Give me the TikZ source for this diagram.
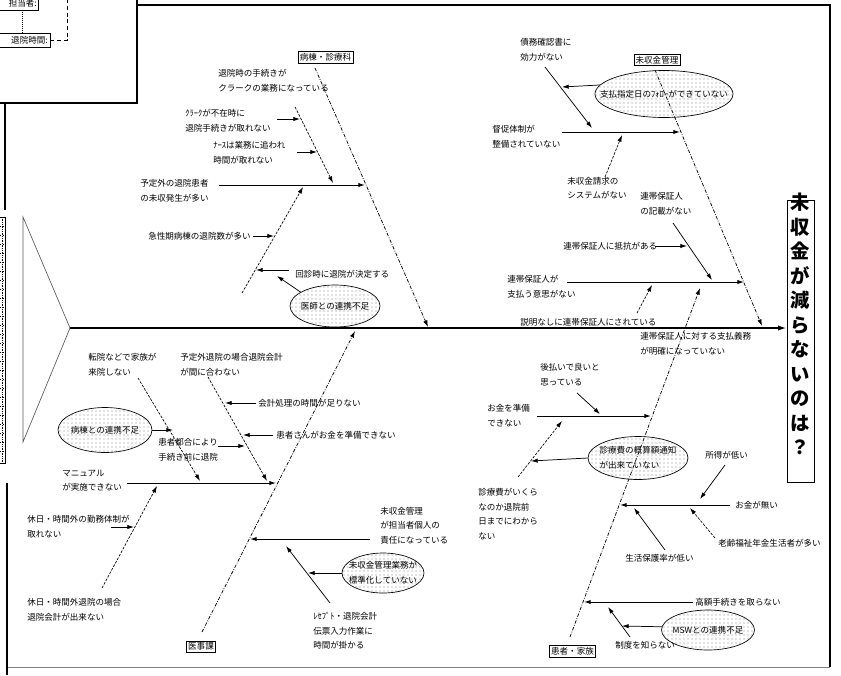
\documentclass[tikz,border=0pt]{standalone}
\usepackage{fontspec}
\setmainfont{Noto Sans CJK JP}
\usetikzlibrary{arrows.meta,shapes.geometric,patterns}
\begin{document}
\begin{tikzpicture}[x=0.75pt,y=-0.75pt,
  txt/.style={inner sep=0pt,font=\fontsize{6.4pt}{11pt}\selectfont,align=left,anchor=west},
  lbl/.style={draw,line width=0.5pt,inner sep=1.3pt,font=\fontsize{6.4pt}{8pt}\selectfont},
  arr/.style={-{Latex[length=5pt,width=3.2pt]},line width=0.55pt},
  hline/.style={arr,line width=0.7pt},
  subd/.style={arr,dash pattern=on 2pt off 1pt,line width=0.5pt},
  bone/.style={arr,dash pattern=on 2.6pt off 1.1pt on 0.6pt off 1.1pt,line width=0.55pt},
  ellip/.style={ellipse,draw,line width=0.5pt,pattern=dots,pattern color=gray,inner sep=0pt},
  frame/.style={line width=0.8pt}]
\useasboundingbox (0,0) rectangle (841,675);

% ---------- frames ----------
\coordinate (f1) at (137,-2); \coordinate (f2) at (137,103); \coordinate (f3) at (-2,103);
\draw[frame] (f1) -- (f2) -- (f3);
\coordinate (m1) at (137,5); \coordinate (m2) at (830,5); \coordinate (m3) at (830,667); \coordinate (m4) at (7,667);
\draw[frame] (m1) -- (m2) -- (m3);
\draw[line width=0.5pt,gray] (m3) -- (m4);
\coordinate (lA) at (5,103); \coordinate (lB) at (5,210);
\coordinate (lC) at (7,483); \coordinate (lD) at (7,675);
\draw[frame] (lA) -- (lB);
\draw[frame] (lC) -- (lD);
% ruler strip
\coordinate (ru1) at (-1,217); \coordinate (ru2) at (5.5,463);
\draw[line width=0.4pt] (ru1) rectangle (ru2);
\foreach \yy in {226,235,...,455} \draw[line width=0.3pt,dotted] (0,\yy) -- (5.5,\yy);
\draw[line width=0.3pt,densely dotted] (2,217) -- (2,463);

% inset contents
\node[draw,line width=0.5pt,minimum width=30pt,minimum height=9pt,inner sep=0pt] (ib1) at (18,4) {};
\node[txt,anchor=east] (ib1t) at (37,3.5) {担当者:};
\node[draw,line width=0.5pt,minimum width=39pt,minimum height=10.5pt,inner sep=0pt] (ib2) at (24,40) {};
\node[txt,anchor=east] (ib2t) at (48,40) {退院時間:};
\coordinate (ic1) at (22,33); \coordinate (ic0) at (22,10);
\draw[densely dotted,line width=0.5pt] (ic0) -- (ic1);
\coordinate (ic2) at (67,40); \coordinate (ic3) at (67,-2);
\draw[densely dashed,line width=0.5pt] (ib2.east) -- (ic2) -- (ic3);

% ---------- spine, tail, head ----------
\coordinate (sp1) at (70,328); \coordinate (sp2) at (786,328);
\coordinate (tl1) at (23,217); \coordinate (tl2) at (23,442);
\draw[line width=0.5pt,gray!70!black] (tl1) -- (sp1) -- (tl2) -- cycle;
\draw[-{Latex[length=6pt,width=4pt]},line width=0.9pt] (sp1) -- (sp2);
\node[draw,line width=0.6pt,minimum width=20.25pt,minimum height=211.5pt,inner sep=0pt] (head) at (800.5,341) {};
\node[inner sep=0pt,align=center,font=\fontsize{14.5pt}{18.4pt}\selectfont\bfseries] (headt) at (800.5,324)
  {未\\収\\金\\が\\減\\ら\\な\\い\\の\\は\\？};

% ---------- top-left bone: 病棟・診療科 ----------
\node[lbl] (lb1) at (325.5,57.5) {病棟・診療科};
\coordinate (b1s) at (315,68); \coordinate (b1e) at (428,327);
\draw[bone] (b1s) -- (b1e);

\node[txt] (t1) at (218,80.5) {退院時の手続きが\\クラークの業務になっている};
\coordinate (t1s) at (295,107); \coordinate (t1e) at (333,183);
\draw[subd] (t1s) -- (t1e);
\node[txt] (t2) at (185,120.5) {ｸﾗｰｸが不在時に\\退院手続きが取れない};
\coordinate (t2s) at (277,119); \coordinate (t2e) at (300,119);
\draw[arr] (t2s) -- (t2e);
\node[txt] (t3) at (213,152.5) {ﾅｰｽは業務に追われ\\時間が取れない};
\coordinate (t3s) at (297,152); \coordinate (t3e) at (317,152);
\draw[arr] (t3s) -- (t3e);
\node[txt] (t4) at (140,190.5) {予定外の退院患者\\の未収発生が多い};
\coordinate (t4s) at (219,185); \coordinate (t4e) at (365,185);
\draw[hline] (t4s) -- (t4e);
\coordinate (t5s) at (242,293); \coordinate (t5e) at (303,187);
\draw[subd] (t5s) -- (t5e);
\node[txt] (t6) at (148,236) {急性期病棟の退院数が多い};
\coordinate (t6s) at (253,236); \coordinate (t6e) at (274,236);
\draw[arr] (t6s) -- (t6e);
\node[txt] (t7) at (295,274) {回診時に退院が決定する};
\coordinate (t7s) at (289,270); \coordinate (t7e) at (256,270);
\draw[arr] (t7s) -- (t7e);
\node[ellip,minimum width=67.5pt,minimum height=31.5pt] (e1) at (335,306) {};
\node[txt,anchor=center] (e1t) at (e1) {医師との連携不足};
\coordinate (e1a) at (277,276);
\draw[arr] (e1.158) -- (e1a);

% ---------- bottom-left bone: 医事課 ----------
\node[lbl] (lb3) at (201,646.5) {医事課};
\coordinate (b3s) at (202,632); \coordinate (b3e) at (355,331);
\draw[bone] (b3s) -- (b3e);

\node[txt] (l1) at (88,365) {転院などで家族が\\来院しない};
\coordinate (l1s) at (138,378); \coordinate (l1e) at (200,481);
\draw[subd] (l1s) -- (l1e);
\node[ellip,minimum width=70.5pt,minimum height=33.75pt] (e2) at (105,430) {};
\node[txt,anchor=center] (e2t) at (e2) {病棟との連携不足};
\coordinate (e2a) at (173,430);
\draw[arr] (e2.east) -- (e2a);
\node[txt] (l3) at (180,365) {予定外退院の場合退院会計\\が間に合わない};
\coordinate (l3s) at (208,377); \coordinate (l3e) at (267,481);
\draw[subd] (l3s) -- (l3e);
\node[txt] (l4) at (258,403) {会計処理の時間が足りない};
\coordinate (l4s) at (256,403); \coordinate (l4e) at (225,403);
\draw[arr] (l4s) -- (l4e);
\node[txt] (l5) at (276,435) {患者さんがお金を準備できない};
\coordinate (l5s) at (273,435); \coordinate (l5e) at (243,435);
\draw[arr] (l5s) -- (l5e);
\node[txt] (l6) at (158,450) {患者都合により\\手続き前に退院};
\coordinate (l6s) at (218,446); \coordinate (l6e) at (245,446);
\draw[arr] (l6s) -- (l6e);
\node[txt] (l7) at (62,480.5) {マニュアル\\が実施できない};
\coordinate (l7s) at (127,483); \coordinate (l7e) at (276,483);
\draw[hline] (l7s) -- (l7e);
\coordinate (l8s) at (102,588); \coordinate (l8e) at (157,486);
\draw[subd] (l8s) -- (l8e);
\node[txt] (l9) at (27,526.5) {休日・時間外の勤務体制が\\取れない};
\coordinate (l9s) at (111,527); \coordinate (l9e) at (134,527);
\draw[arr] (l9s) -- (l9e);
\node[txt] (l10) at (27,610) {休日・時間外退院の場合\\退院会計が出来ない};
\node[txt] (l11) at (380,525.5) {未収金管理\\が担当者個人の\\責任になっている};
\coordinate (l11s) at (370,539); \coordinate (l11e) at (250,539);
\draw[hline] (l11s) -- (l11e);
\node[txt] (l12) at (313,631) {ﾚｾﾌﾟﾄ・退院会計\\伝票入力作業に\\時間が掛かる};
\coordinate (l12s) at (330,603); \coordinate (l12e) at (286,546);
\draw[arr] (l12s) -- (l12e);
\node[ellip,minimum width=61.5pt,minimum height=30pt] (e3) at (383,573) {};
\node[txt,anchor=center] (e3t) at (e3) {未収金管理業務が\\標準化していない};
\coordinate (e3a) at (308,573);
\draw[arr] (e3.west) -- (e3a);

% ---------- top-right bone: 未収金管理 ----------
\node[lbl] (lb2) at (657,60) {未収金管理};
\coordinate (b2s) at (655,70); \coordinate (b2e) at (762,326);
\draw[bone] (b2s) -- (b2e);

\node[txt] (r1) at (520,50) {債務確認書に\\効力がない};
\coordinate (r1s) at (545,67); \coordinate (r1e) at (592,128);
\draw[arr] (r1s) -- (r1e);
\node[ellip,minimum width=103.5pt,minimum height=35.25pt] (e4) at (664,94) {};
\node[txt,anchor=center] (e4t) at (e4) {支払指定日のﾌｫﾛｰができていない};
\coordinate (e4a) at (562,87);
\draw[arr] (e4.172) -- (e4a);
\node[txt] (r3) at (492,137) {督促体制が\\整備されていない};
\coordinate (r3s) at (562,132); \coordinate (r3e) at (680,132);
\draw[hline] (r3s) -- (r3e);
\node[txt] (r4) at (567,188) {未収金請求の\\システムがない};
\coordinate (r4s) at (605,177); \coordinate (r4e) at (622,135);
\draw[subd] (r4s) -- (r4e);
\node[txt] (r5) at (640,204) {連帯保証人\\の記載がない};
\coordinate (r5s) at (673,223); \coordinate (r5e) at (712,280);
\draw[arr] (r5s) -- (r5e);
\node[txt] (r6) at (563,246) {連帯保証人に抵抗がある};
\coordinate (r6s) at (655,246); \coordinate (r6e) at (687,246);
\draw[arr] (r6s) -- (r6e);
\node[txt] (r7) at (507,287) {連帯保証人が\\支払う意思がない};
\coordinate (r7s) at (567,282); \coordinate (r7e) at (744,282);
\draw[hline] (r7s) -- (r7e);
\node[txt] (r8) at (520,322) {説明なしに連帯保証人にされている};
\coordinate (r8s) at (637,313); \coordinate (r8e) at (652,285);
\draw[subd] (r8s) -- (r8e);
\node[txt] (r9) at (640,343.5) {連帯保証人に対する支払義務\\が明確になっていない};

% ---------- bottom-right bone: 患者・家族 ----------
\node[lbl] (lb4) at (572.5,651.5) {患者・家族};
\coordinate (b4s) at (570,637); \coordinate (b4e) at (700,288);
\draw[bone] (b4s) -- (b4e);

\node[txt] (d1) at (540,374.5) {後払いで良いと\\思っている};
\coordinate (d1s) at (577,393); \coordinate (d1e) at (600,414);
\draw[arr] (d1s) -- (d1e);
\node[txt] (d2) at (487,415.5) {お金を準備\\できない};
\coordinate (d2s) at (537,416); \coordinate (d2e) at (651,416);
\draw[hline] (d2s) -- (d2e);
\node[txt] (d3) at (478,514) {診療費がいくら\\なのか退院前\\日までにわから\\ない};
\coordinate (d3s) at (518,477); \coordinate (d3e) at (562,421);
\draw[subd] (d3s) -- (d3e);
\node[ellip,minimum width=75pt,minimum height=32.25pt] (e5) at (638,458) {};
\node[txt,anchor=center] (e5t) at (e5) {診療費の概算額通知\\が出来ていない};
\coordinate (e5a) at (531,461);
\draw[arr] (e5.west) -- (e5a);
\node[txt] (d5) at (705,455) {所得が低い};
\coordinate (d5s) at (725,465); \coordinate (d5e) at (700,499);
\draw[arr] (d5s) -- (d5e);
\node[txt] (d6) at (735,505) {お金が無い};
\coordinate (d6s) at (730,505); \coordinate (d6e) at (620,505);
\draw[hline] (d6s) -- (d6e);
\node[txt] (d7) at (625,558) {生活保護率が低い};
\coordinate (d7s) at (665,550); \coordinate (d7e) at (634,508);
\draw[arr] (d7s) -- (d7e);
\node[txt] (d8) at (718,543) {老齢福祉年金生活者が多い};
\coordinate (d8s) at (715,538); \coordinate (d8e) at (690,508);
\draw[subd] (d8s) -- (d8e);
\node[txt] (d9) at (695,602) {高額手続きを取らない};
\coordinate (d9s) at (693,602); \coordinate (d9e) at (584,602);
\draw[hline] (d9s) -- (d9e);
\node[ellip,minimum width=69.75pt,minimum height=30pt] (e6) at (708,630) {};
\node[txt,anchor=center] (e6t) at (e6) {MSWとの連携不足};
\coordinate (e6a) at (622,626);
\draw[arr] (e6.176) -- (e6a);
\node[txt] (d11) at (615,645) {制度を知らない};
\coordinate (d11s) at (630,637); \coordinate (d11e) at (608,607);
\draw[arr] (d11s) -- (d11e);
\end{tikzpicture}
\end{document}
